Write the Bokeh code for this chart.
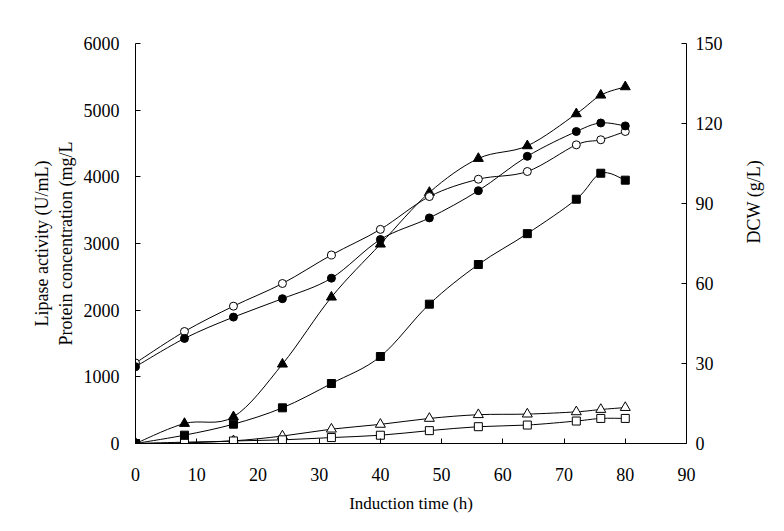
import numpy as np
from bokeh.plotting import figure
from bokeh.models import Range1d, LinearAxis, FixedTicker
from bokeh.embed import file_html
from bokeh.resources import INLINE

# ---------------- data ----------------
time_h = [0, 8, 16, 24, 32, 40, 48, 56, 64, 72, 76, 80]

# left axis (U/mL or mg/L)
lipase_a = [0, 300, 400, 1190, 2195, 2990, 3765, 4275, 4465, 4945, 5225, 5350]      # filled triangles
protein_a = [0, 125, 290, 535, 900, 1305, 2090, 2685, 3148, 3664, 4054, 3950]      # filled squares
lipase_b = [0, 20, 40, 112, 215, 287, 376, 432, 441, 475, 510, 539]                # open triangles
protein_b = [0, 8, 38, 55, 89, 124, 193, 252, 277, 337, 376, 376]                  # open squares

# right axis (g/L)
dcw_a = [28.8, 39.4, 47.4, 54.3, 62.0, 76.5, 84.6, 94.8, 107.7, 117.0, 120.2, 119.1]  # filled circles
dcw_b = [30.2, 42.0, 51.5, 60.0, 70.7, 80.3, 92.6, 99.1, 102.0, 112.0, 113.9, 117.0]  # open circles

x_ticks = [0, 10, 20, 30, 40, 50, 60, 70, 80, 90]
left_ticks = [0, 1000, 2000, 3000, 4000, 5000, 6000]
right_ticks = [0, 30, 60, 90, 120, 150]

FONT = "Liberation Serif"

p = figure(width=776, height=515, output_backend="svg", toolbar_location=None,
           x_range=Range1d(0, 90), y_range=Range1d(0, 6000),
           min_border_left=135, min_border_right=83, min_border_top=43, min_border_bottom=68)
p.extra_y_ranges = {"dcw": Range1d(0, 150)}
p.grid.visible = False
p.outline_line_color = None
p.background_fill_color = "white"
p.border_fill_color = "white"


def style_axis(ax):
    ax.axis_line_color = "black"
    ax.axis_line_width = 1
    ax.major_tick_in = 5
    ax.major_tick_out = 0
    ax.minor_tick_line_color = None
    ax.major_tick_line_color = "black"
    ax.major_label_text_font = FONT
    ax.major_label_text_font_size = "18px"
    ax.major_label_text_color = "black"
    ax.axis_label_text_font = FONT
    ax.axis_label_text_font_size = "18px"
    ax.axis_label_text_font_style = "normal"
    ax.axis_label_text_color = "black"


xa = p.xaxis[0]
style_axis(xa)
xa.ticker = FixedTicker(ticks=x_ticks)
xa.axis_label = "Induction time (h)"
xa.axis_label_text_font_size = "17px"
xa.major_label_standoff = 24
xa.axis_label_standoff = 10

ya = p.yaxis[0]
style_axis(ya)
ya.ticker = FixedTicker(ticks=left_ticks)
ya.axis_label = "Lipase activity (U/mL)\nProtein concentration (mg/L"
ya.major_label_standoff = 16
ya.axis_label_standoff = 5

ra = LinearAxis(y_range_name="dcw", ticker=FixedTicker(ticks=right_ticks), axis_label="DCW (g/L)")
style_axis(ra)
ra.major_label_standoff = 9
ra.axis_label_standoff = 28
ra.axis_label_orientation = np.pi / 2
p.add_layout(ra, "right")


def smooth(xs, ys, **kw):
    x = np.asarray(xs, float)
    y = np.asarray(ys, float)
    n = len(x)
    xp = np.concatenate([[x[0]], x, [x[-1]]])
    yp = np.concatenate([[y[0]], y, [y[-1]]])
    x0, y0 = x[:-1], y[:-1]
    x1, y1 = x[1:], y[1:]
    cx0 = x0 + (xp[2:n + 1] - xp[0:n - 1]) / 6.0
    cy0 = y0 + (yp[2:n + 1] - yp[0:n - 1]) / 6.0
    cx1 = x1 - (xp[3:n + 2] - xp[1:n]) / 6.0
    cy1 = y1 - (yp[3:n + 2] - yp[1:n]) / 6.0
    p.bezier(x0=x0, y0=y0, x1=x1, y1=y1, cx0=cx0, cy0=cy0, cx1=cx1, cy1=cy1,
             line_color="black", line_width=1, **kw)


series = [
    (lipase_b, "triangle", "white"),
    (protein_b, "square", "white"),
    (protein_a, "square", "black"),
    (lipase_a, "triangle", "black"),
]
for ys, marker, fill in series:
    smooth(time_h, ys)
for ys, marker, fill in series:
    sz = 10 if marker == "triangle" else 8
    p.scatter(time_h, ys, marker=marker, size=sz, fill_color=fill, line_color="black", line_width=1)

smooth(time_h, dcw_b, y_range_name="dcw")
smooth(time_h, dcw_a, y_range_name="dcw")
p.scatter(time_h, dcw_b, marker="circle", size=8, fill_color="white", line_color="black",
          line_width=1, y_range_name="dcw")
p.scatter(time_h, dcw_a, marker="circle", size=8, fill_color="black", line_color="black",
          line_width=1, y_range_name="dcw")

open("out.html", "w").write(file_html(p, INLINE))
